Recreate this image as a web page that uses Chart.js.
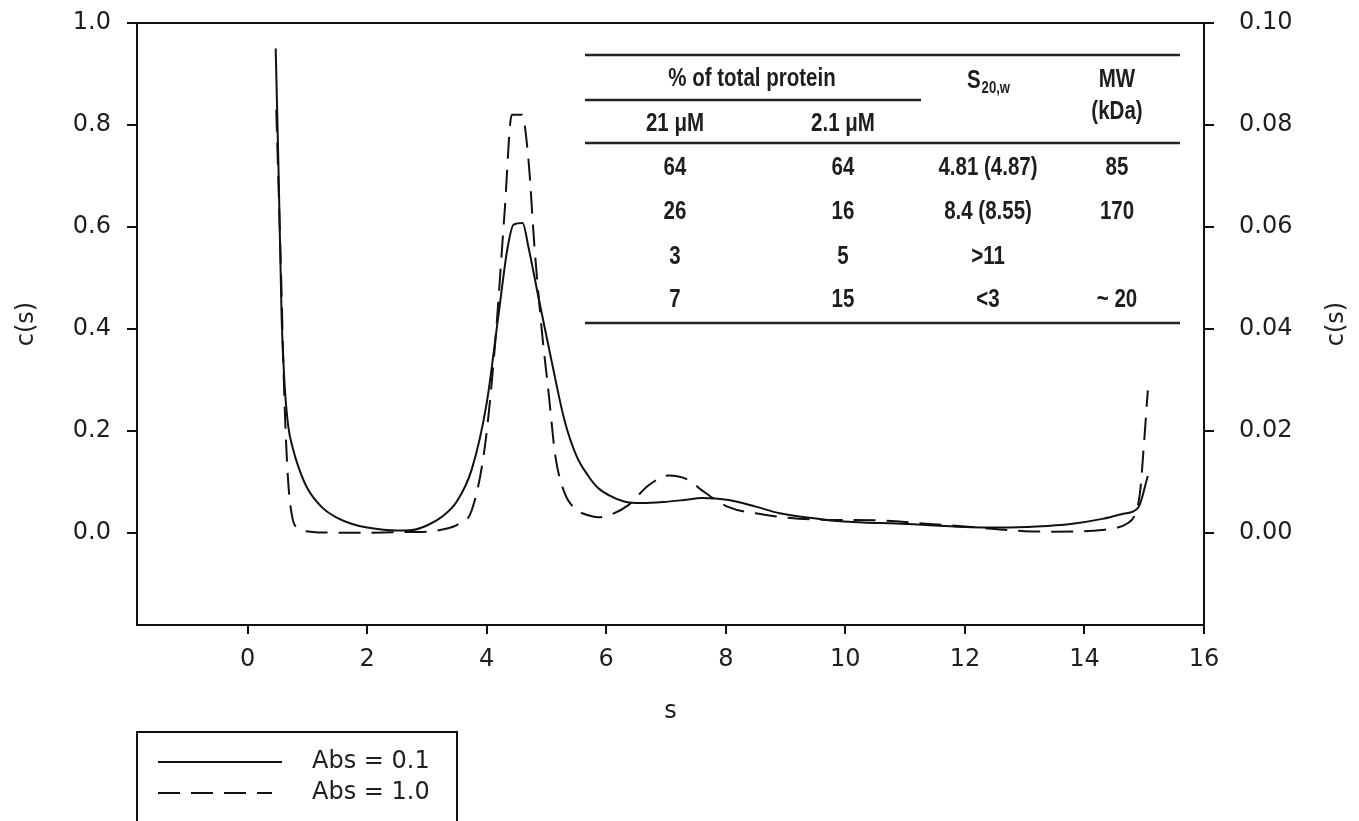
<!DOCTYPE html>
<html>
<head>
<meta charset="utf-8">
<script src="https://cdn.jsdelivr.net/npm/chart.js@4.4.1/dist/chart.umd.min.js"></script>
<style>
  html, body { margin: 0; padding: 0; background: #ffffff; }
  canvas { display: block; }
</style>
</head>
<body>
<canvas id="c" width="1359" height="821"></canvas>
<script>
// ---------- data ----------
const sSolid = [0.47, 0.52, 0.57, 0.62, 0.68, 0.76, 0.85, 1.0, 1.25, 1.5, 1.75, 2.0, 2.5, 2.75, 3.0, 3.25, 3.5, 3.75, 4.0, 4.2, 4.35, 4.45, 4.6, 4.7, 4.87, 5.09, 5.3, 5.5, 5.7, 5.85, 6.05, 6.3, 6.6, 6.95, 7.3, 7.6, 8.05, 8.5, 8.9, 9.4, 9.75, 10.3, 10.85, 11.5, 12.0, 12.6, 13.2, 13.77, 14.3, 14.65, 14.9, 15.06];
const cSolid = [0.95, 0.7, 0.42, 0.29, 0.21, 0.165, 0.13, 0.088, 0.05, 0.03, 0.018, 0.011, 0.005, 0.006, 0.015, 0.032, 0.062, 0.125, 0.255, 0.43, 0.56, 0.605, 0.608, 0.56, 0.46, 0.335, 0.222, 0.152, 0.112, 0.09, 0.074, 0.062, 0.059, 0.061, 0.065, 0.069, 0.065, 0.052, 0.039, 0.03, 0.025, 0.021, 0.019, 0.015, 0.012, 0.011, 0.013, 0.018, 0.028, 0.038, 0.05, 0.112];

const sDashed = [0.48, 0.55, 0.62, 0.68, 0.75, 0.85, 1.05, 1.5, 2.0, 2.5, 3.0, 3.3, 3.53, 3.75, 3.97, 4.14, 4.3, 4.42, 4.59, 4.7, 4.8, 4.92, 5.04, 5.15, 5.3, 5.48, 5.7, 5.87, 6.09, 6.37, 6.71, 7.05, 7.38, 7.6, 8.05, 8.6, 9.44, 10.57, 11.4, 12.0, 12.5, 13.0, 13.5, 14.0, 14.4, 14.7, 14.85, 14.93, 14.99, 15.06];
const cDashed = [0.83, 0.55, 0.25, 0.1, 0.03, 0.01, 0.003, 0.001, 0.001, 0.002, 0.003, 0.008, 0.018, 0.045, 0.17, 0.37, 0.63, 0.82, 0.82, 0.73, 0.56, 0.4, 0.27, 0.15, 0.08, 0.048, 0.035, 0.031, 0.037, 0.055, 0.094, 0.113, 0.104, 0.084, 0.051, 0.037, 0.027, 0.025, 0.018, 0.013, 0.008, 0.004, 0.003, 0.004, 0.008, 0.018, 0.038, 0.08, 0.166, 0.28];

const seriesLabels = ['Abs = 0.1', 'Abs = 1.0'];

const xTicks = [0, 2, 4, 6, 8, 10, 12, 14, 16];
const yTicks = [0.0, 0.2, 0.4, 0.6, 0.8, 1.0];
const y2Ticks = [0.00, 0.02, 0.04, 0.06, 0.08, 0.10];

// inset table text
const tableGroupHeader = '% of total protein';
const concLabels = ['21 μM', '2.1 μM'];
const pct21 = ['64', '26', '3', '7'];
const pct2 = ['64', '16', '5', '15'];
const s20w = ['4.81 (4.87)', '8.4 (8.55)', '>11', '<3'];
const mw = ['85', '170', '', '~ 20'];

// ---------- chart ----------
const INK = '#111111';
const TXT = '#1e1e1e';
const FONT = "'DejaVu Sans', sans-serif";
const BOLD = "'Liberation Sans', Arial, sans-serif";
const SQ = 0.82; // horizontal squeeze to imitate a narrow bold face

function pts(xs, ys) { return xs.map((x, i) => ({ x: x, y: ys[i] })); }

function narrowText(ctx, text, cx, cy, size, align) {
  ctx.save();
  ctx.font = 'bold ' + size + 'px ' + BOLD;
  ctx.textAlign = align || 'center';
  ctx.textBaseline = 'middle';
  ctx.translate(cx, cy);
  ctx.scale(SQ, 1);
  ctx.fillText(text, 0, 0);
  ctx.restore();
}

const frameAndExtras = {
  id: 'frameAndExtras',
  afterDraw(chart) {
    const ctx = chart.ctx;
    const a = chart.chartArea;
    ctx.save();
    // top frame line
    ctx.strokeStyle = INK;
    ctx.lineWidth = 2;
    ctx.beginPath();
    ctx.moveTo(a.left - 1, a.top);
    ctx.lineTo(a.right + 1, a.top);
    ctx.stroke();

    // right axis title (same orientation as left)
    const y2 = chart.scales.y2;
    ctx.fillStyle = TXT;
    ctx.font = '24px ' + FONT;
    ctx.textAlign = 'center';
    ctx.textBaseline = 'middle';
    ctx.translate(1337, (y2.top + y2.bottom) / 2);
    ctx.rotate(-Math.PI / 2);
    ctx.fillText('c(s)', 0, 0);
    ctx.restore();

    // ---- inset table ----
    ctx.save();
    ctx.strokeStyle = '#222';
    ctx.lineWidth = 2.5;
    const L = 585, R = 1180;
    [[55, R], [100, 921], [143, R], [323, R]].forEach(([y, r]) => {
      ctx.beginPath(); ctx.moveTo(L, y); ctx.lineTo(r, y); ctx.stroke();
    });
    ctx.fillStyle = TXT;
    const cols = [675, 843, 988, 1117];
    narrowText(ctx, tableGroupHeader, 752, 79, 25);
    narrowText(ctx, concLabels[0], cols[0], 124, 25);
    narrowText(ctx, concLabels[1], cols[1], 124, 25);
    narrowText(ctx, 'MW', cols[3], 80, 25);
    narrowText(ctx, '(kDa)', cols[3], 112, 25);
    // S20,w
    ctx.font = 'bold 25px ' + BOLD;
    const sW = ctx.measureText('S').width * SQ;
    ctx.font = 'bold 16px ' + BOLD;
    const subW = ctx.measureText('20,w').width * SQ;
    const sx = cols[2] - (sW + subW) / 2;
    narrowText(ctx, 'S', sx, 81, 25, 'left');
    narrowText(ctx, '20,w', sx + sW + 1, 89, 16, 'left');
    const rowsY = [168, 212, 257, 300];
    rowsY.forEach((y, i) => {
      narrowText(ctx, pct21[i], cols[0], y, 25);
      narrowText(ctx, pct2[i], cols[1], y, 25);
      narrowText(ctx, s20w[i], cols[2], y, 25);
      if (mw[i]) narrowText(ctx, mw[i], cols[3], y, 25);
    });
    ctx.restore();

    // ---- legend box ----
    ctx.save();
    ctx.strokeStyle = INK;
    ctx.lineWidth = 2;
    ctx.strokeRect(137, 732, 320, 120);
    const ds = chart.data.datasets;
    const ly = [762, 793];
    const lx1 = [282, 272];
    ds.forEach((d, i) => {
      ctx.setLineDash(d.borderDash || []);
      ctx.lineWidth = 2;
      ctx.strokeStyle = d.borderColor;
      ctx.beginPath(); ctx.moveTo(158, ly[i]); ctx.lineTo(lx1[i], ly[i]); ctx.stroke();
      ctx.setLineDash([]);
      ctx.fillStyle = TXT;
      ctx.font = '24px ' + FONT;
      ctx.textAlign = 'left';
      ctx.textBaseline = 'middle';
      ctx.fillText(d.label, 312, ly[i]);
    });
    ctx.restore();
  }
};

const tickFont = { family: FONT, size: 24 };

function noPad(s) { s.paddingTop = 0; s.paddingBottom = 0; s.paddingLeft = 0; s.paddingRight = 0; }

new Chart(document.getElementById('c').getContext('2d'), {
  type: 'line',
  data: {
    datasets: [
      { label: seriesLabels[0], data: pts(sSolid, cSolid), borderColor: INK, borderWidth: 2,
        pointRadius: 0, cubicInterpolationMode: 'monotone', fill: false, yAxisID: 'y' },
      { label: seriesLabels[1], data: pts(sDashed, cDashed), borderColor: INK, borderWidth: 2,
        borderDash: [22, 11], pointRadius: 0, cubicInterpolationMode: 'monotone', fill: false, yAxisID: 'y' }
    ]
  },
  options: {
    responsive: false,
    animation: false,
    devicePixelRatio: 1,
    layout: { padding: { top: 23, left: 0, right: 0, bottom: 0 } },
    plugins: { legend: { display: false }, tooltip: { enabled: false } },
    scales: {
      x: {
        type: 'linear', position: 'bottom', min: -1.85, max: 16,
        afterFit(s) { s.height = 196; noPad(s); },
        afterBuildTicks(s) { s.ticks = xTicks.map(v => ({ value: v })); },
        grid: { drawOnChartArea: false, drawTicks: true, tickLength: 9, color: INK, lineWidth: 2 },
        border: { display: true, color: INK, width: 2 },
        ticks: { font: tickFont, color: TXT, padding: 11, maxRotation: 0, autoSkip: false,
                 callback: v => String(v) },
        title: { display: true, text: 's', font: { family: FONT, size: 24 }, color: TXT,
                 padding: { top: 0, bottom: 95 } }
      },
      y: {
        type: 'linear', position: 'left', min: -0.18, max: 1.0,
        afterFit(s) { s.width = 137; noPad(s); },
        afterBuildTicks(s) { s.ticks = yTicks.map(v => ({ value: v })); },
        grid: { drawOnChartArea: false, drawTicks: true, tickLength: 10, color: INK, lineWidth: 2 },
        border: { display: true, color: INK, width: 2 },
        ticks: { font: tickFont, color: TXT, padding: 16, callback: v => Number(v).toFixed(1) },
        title: { display: true, text: 'c(s)', font: { family: FONT, size: 24 }, color: TXT,
                 padding: { top: 12, bottom: 0 } }
      },
      y2: {
        type: 'linear', position: 'right', min: -0.018, max: 0.1,
        afterFit(s) { s.width = 155; noPad(s); },
        afterBuildTicks(s) { s.ticks = y2Ticks.map(v => ({ value: v })); },
        grid: { drawOnChartArea: false, drawTicks: true, tickLength: 10, color: INK, lineWidth: 2 },
        border: { display: true, color: INK, width: 2 },
        ticks: { font: tickFont, color: TXT, padding: 25, callback: v => Number(v).toFixed(2) }
      }
    }
  },
  plugins: [frameAndExtras]
});
</script>
</body>
</html>
